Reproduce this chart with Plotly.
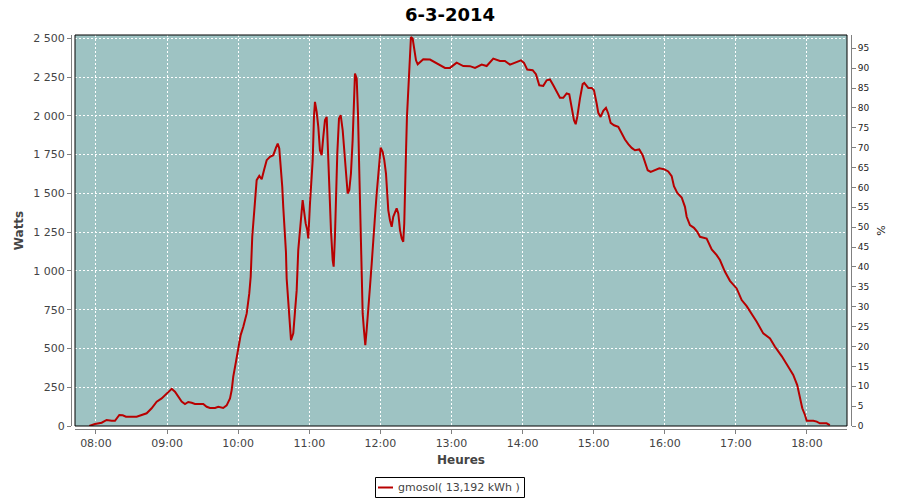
import plotly.graph_objects as go

# ---- data (time of day in decimal hours, power in Watts) ----
hours = [
    7.906, 7.986, 8.080, 8.150, 8.221, 8.267, 8.328, 8.376, 8.422, 8.502,
    8.572, 8.643, 8.713, 8.783, 8.854, 8.924, 8.994, 9.065, 9.111, 9.158,
    9.205, 9.252, 9.298, 9.346, 9.392, 9.509, 9.557, 9.603, 9.674, 9.720,
    9.790, 9.838, 9.885, 9.909, 9.931, 9.969, 10.001, 10.035, 10.072, 10.120,
    10.156, 10.176, 10.198, 10.222, 10.260, 10.297, 10.331, 10.363, 10.401, 10.447,
    10.494, 10.532, 10.556, 10.578, 10.602, 10.620, 10.634, 10.658, 10.672, 10.682,
    10.705, 10.729, 10.743, 10.775, 10.799, 10.823, 10.845, 10.869, 10.883, 10.907,
    10.925, 10.949, 10.972, 10.986, 11.010, 11.034, 11.048, 11.066, 11.080, 11.104,
    11.127, 11.150, 11.174, 11.197, 11.221, 11.245, 11.267, 11.291, 11.305, 11.329,
    11.343, 11.361, 11.376, 11.394, 11.418, 11.442, 11.470, 11.492, 11.516, 11.540,
    11.563, 11.586, 11.610, 11.629, 11.643, 11.667, 11.685, 11.703, 11.723, 11.737,
    11.751, 11.769, 11.788, 11.807, 11.830, 11.854, 11.878, 11.900, 11.924, 11.948,
    11.970, 11.985, 12.004, 12.032, 12.055, 12.079, 12.089, 12.111, 12.135, 12.159,
    12.181, 12.205, 12.229, 12.252, 12.276, 12.300, 12.322, 12.336, 12.350, 12.360,
    12.374, 12.388, 12.402, 12.416, 12.430, 12.454, 12.477, 12.501, 12.525, 12.557,
    12.603, 12.698, 12.792, 12.909, 12.979, 13.073, 13.166, 13.260, 13.331, 13.425,
    13.495, 13.588, 13.682, 13.752, 13.823, 13.893, 13.977, 14.020, 14.066, 14.142,
    14.188, 14.235, 14.291, 14.339, 14.385, 14.432, 14.480, 14.526, 14.572, 14.620,
    14.657, 14.691, 14.723, 14.747, 14.769, 14.807, 14.845, 14.868, 14.924, 14.972,
    15.004, 15.042, 15.065, 15.098, 15.135, 15.173, 15.205, 15.239, 15.286, 15.346,
    15.394, 15.440, 15.487, 15.535, 15.581, 15.641, 15.689, 15.722, 15.760, 15.802,
    15.862, 15.923, 15.989, 16.049, 16.097, 16.129, 16.176, 16.238, 16.284, 16.308,
    16.354, 16.411, 16.457, 16.495, 16.589, 16.660, 16.730, 16.776, 16.847, 16.917,
    17.011, 17.082, 17.152, 17.222, 17.293, 17.385, 17.480, 17.550, 17.644, 17.737,
    17.807, 17.863, 17.902, 17.934, 17.972, 17.996, 18.089, 18.137, 18.181, 18.276,
    18.322,
]
watts = [
    0, 13, 21, 39, 34, 34, 71, 69, 60, 60,
    60, 71, 82, 114, 157, 178, 211, 240, 221, 189,
    157, 142, 155, 150, 142, 142, 124, 116, 116, 124,
    116, 133, 178, 232, 318, 414, 511, 586, 640, 726,
    855, 962, 1220, 1370, 1585, 1613, 1591, 1649, 1714, 1735,
    1746, 1795, 1821, 1789, 1671, 1542, 1413, 1252, 1123, 951,
    790, 662, 554, 597, 747, 876, 1134, 1274, 1370, 1456,
    1392, 1306, 1263, 1209, 1435, 1617, 1714, 1993, 2090, 2025,
    1929, 1778, 1746, 1864, 1972, 1993, 1714, 1478, 1263, 1070,
    1027, 1220, 1542, 1757, 1983, 2004, 1907, 1778, 1628, 1499,
    1521, 1628, 1843, 2122, 2272, 2240, 2015, 1649, 1263, 941,
    726, 619, 522, 619, 790, 898, 1048, 1220, 1349, 1499,
    1628, 1735, 1795, 1768, 1714, 1628, 1521, 1392, 1327, 1284,
    1349, 1381, 1403, 1370, 1263, 1209, 1188, 1306, 1499, 1757,
    1993, 2122, 2251, 2423, 2508, 2498, 2423, 2358, 2332, 2347,
    2365, 2363, 2341, 2309, 2309, 2343, 2321, 2320, 2309, 2330,
    2321, 2369, 2354, 2354, 2330, 2341, 2358, 2341, 2298, 2294,
    2268, 2197, 2193, 2229, 2234, 2197, 2154, 2116, 2116, 2144,
    2139, 2057, 1972, 1946, 1993, 2111, 2204, 2212, 2180, 2180,
    2165, 2079, 2019, 1993, 2032, 2051, 2015, 1954, 1939, 1929,
    1886, 1847, 1817, 1793, 1778, 1783, 1746, 1703, 1649, 1639,
    1649, 1662, 1656, 1641, 1611, 1546, 1503, 1473, 1413, 1349,
    1295, 1278, 1252, 1220, 1209, 1139, 1102, 1070, 994, 936,
    887, 812, 773, 726, 672, 597, 565, 511, 451, 382,
    329, 264, 189, 114, 71, 34, 34, 28, 17, 17,
    6,
]
tick_hours = [8, 9, 10, 11, 12, 13, 14, 15, 16, 17, 18]
tick_labels = ["08:00", "09:00", "10:00", "11:00", "12:00", "13:00",
               "14:00", "15:00", "16:00", "17:00", "18:00"]
series_name = "gmosol( 13,192 kWh )"
title_text = "6-3-2014"

# ---- figure ----
W, H = 900, 500
ml, mr, mt, mb = 70, 48, 35, 71
pw = W - ml - mr
ph = H - mt - mb
xdom = [5 / pw, (pw - 5) / pw]
ydom = [3 / ph, 1.0]
LINE_COLOR = "#B80000"


def px_x(p):
    """page pixel x -> paper coordinate"""
    return (p - ml) / pw


def px_y(p):
    """page pixel y -> paper coordinate"""
    return (H - mb - p) / ph


FONT = "DejaVu Sans"
fig = go.Figure()
fig.add_trace(go.Scatter(
    x=hours, y=watts, mode="lines", name=series_name,
    line=dict(color=LINE_COLOR, width=2), showlegend=False,
))
fig.add_trace(go.Scatter(x=[None], y=[None], yaxis="y2",
                         showlegend=False, hoverinfo="skip"))

fig.update_layout(
    width=W, height=H,
    margin=dict(l=ml, r=mr, t=mt, b=mb, autoexpand=False),
    paper_bgcolor="white",
    plot_bgcolor="#9EC3C3",
    separators=", ",
    showlegend=False,
    font=dict(family=FONT, size=11, color="#444444"),
    title=dict(text="<b>" + title_text + "</b>", x=0.5, xref="container",
               xanchor="center", y=1 - 15 / H, yref="container", yanchor="middle",
               font=dict(family=FONT, size=18, color="black")),
    xaxis=dict(
        domain=xdom, range=[7.705, 18.563], anchor="free", position=0,
        tickvals=tick_hours, ticktext=tick_labels,
        showgrid=True, gridcolor="white", griddash="2px,2px", gridwidth=1,
        zeroline=False, showline=True, linecolor="#808080", linewidth=1,
        ticks="outside", ticklen=4, tickcolor="#808080",
        tickfont=dict(family=FONT, size=11, color="#444444"),
        title=dict(text="<b>Heures</b>", standoff=6,
                   font=dict(family=FONT, size=12, color="#444444")),
    ),
    yaxis=dict(
        domain=ydom, range=[0, 2521], anchor="free", position=1 / pw,
        dtick=250, tickformat=",d", separatethousands=True,
        showgrid=True, gridcolor="white", griddash="2px,2px", gridwidth=1,
        zeroline=False, showline=True, linecolor="#808080", linewidth=1,
        ticks="outside", ticklen=4, tickcolor="#808080",
        tickfont=dict(family=FONT, size=11, color="#444444"),
        title=dict(text="<b>Watts</b>", standoff=6,
                   font=dict(family=FONT, size=12, color="#444444")),
    ),
    yaxis2=dict(
        domain=ydom, range=[0, 98.35], overlaying="y", side="right",
        anchor="free", position=(pw - 1) / pw,
        dtick=5, showgrid=False, zeroline=False,
        showline=True, linecolor="#808080", linewidth=1,
        ticks="outside", ticklen=4, tickcolor="#808080",
        tickfont=dict(family=FONT, size=9, color="#222222"),
        title=dict(text="%", standoff=8,
                   font=dict(family=FONT, size=11, color="#222222")),
    ),
)
# plot frame
fig.add_shape(type="rect", xref="x domain", yref="y domain",
              x0=0, x1=1, y0=0, y1=1, line=dict(color="black", width=1),
              layer="above")

# legend (box, line sample and label), laid out like the reference
fig.add_shape(type="rect", xref="paper", yref="paper",
              x0=px_x(375.5), x1=px_x(524.5), y0=px_y(477.5), y1=px_y(497.5),
              line=dict(color="black", width=1), fillcolor="white", layer="above")
fig.add_shape(type="line", xref="paper", yref="paper",
              x0=px_x(378), x1=px_x(393), y0=px_y(487.5), y1=px_y(487.5),
              line=dict(color=LINE_COLOR, width=2), layer="above")
fig.add_annotation(text=series_name, xref="paper", yref="paper",
                   x=px_x(396), y=px_y(487.5), xanchor="left", yanchor="middle",
                   showarrow=False,
                   font=dict(family=FONT, size=11, color="#444444"))

fig.write_html("out.html", config={"displayModeBar": False})

# remove the browser's default page margin so the figure sits at (0, 0)
with open("out.html", "r", encoding="utf-8") as f:
    html = f.read()
html = html.replace("<head>", "<head><style>html,body{margin:0;padding:0;overflow:hidden;}</style>", 1)
with open("out.html", "w", encoding="utf-8") as f:
    f.write(html)
